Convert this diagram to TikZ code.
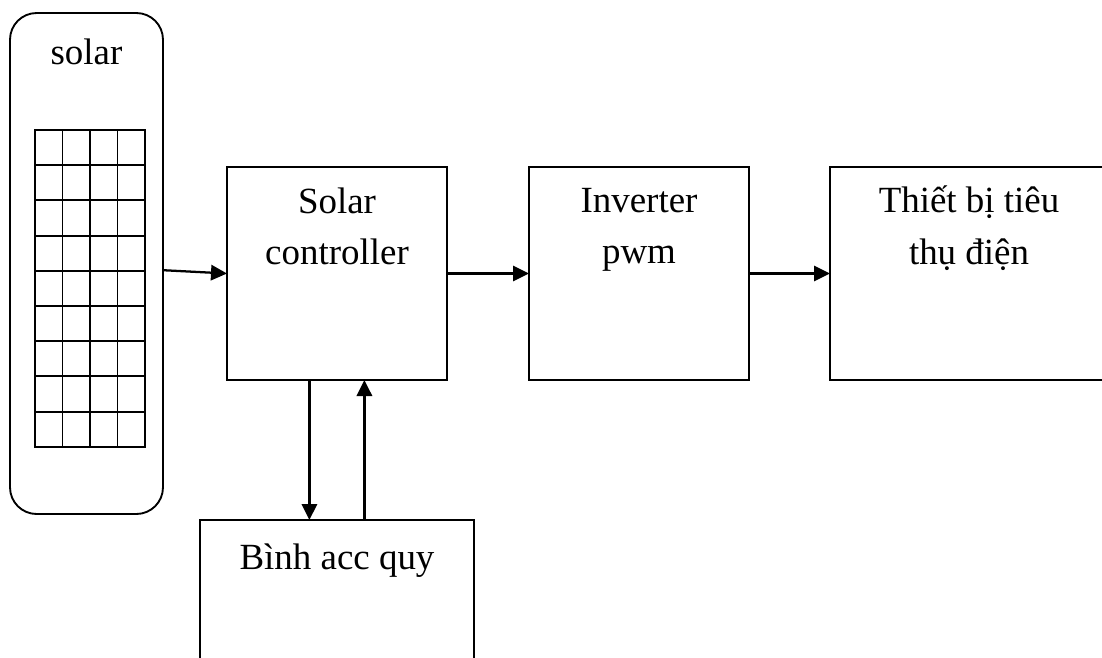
\documentclass[tikz,border=0pt]{standalone}
\usepackage{fontspec}
\setmainfont{Liberation Serif}
\usetikzlibrary{positioning, arrows.meta, calc}
\tikzset{
  block/.style={draw, line width=1.4pt, inner sep=0pt, outer sep=0pt},
  blocktext/.style={align=center, inner sep=0pt, font=\fontsize{27.7}{38.5}\selectfont},
  flow/.style={-{Triangle[length=12pt, width=11.5pt]}, line width=1.7pt}
}

\begin{document}
\begin{tikzpicture}[x=0.75pt, y=-0.75pt]
  \useasboundingbox (0,0) rectangle (1102,657);

  % Solar panel
  \node[block, rounded corners=20pt, minimum width=114.75pt, minimum height=375.75pt] (solar) at (86.5,263.5) {};
  \node[blocktext, below=19.5pt of solar.north] (solartext) {solar};
  \node[block, minimum width=82.5pt, minimum height=237.75pt] (panel) at (90,288.5) {};
  \foreach \i in {1,2,3}
    \draw[line width=1.4pt] (35+27.5*\i,130) -- (35+27.5*\i,447);
  \foreach \j in {1,...,8}
    \draw[line width=1.4pt] (35,130+35.2*\j) -- (145,130+35.2*\j);

  % Blocks
  \node[block, minimum width=165pt, minimum height=159.75pt] (controller) at (337,273.5) {};
  \node[blocktext, below=15.5pt of controller.north] (controllertext) {Solar\\controller};
  \node[block, minimum width=165pt, minimum height=159.75pt] (inverter) at (639,273.5) {};
  \node[blocktext, below=15.5pt of inverter.north] (invertertext) {Inverter\\pwm};
  \node[block, minimum width=208.5pt, minimum height=159.75pt] (load) at (969,273.5) {};
  \node[blocktext, below=14pt of load.north] (loadtext) {Thiết bị tiêu\\thụ điện};
  \node[block, minimum width=205.5pt, minimum height=159.75pt] (battery) at (337,626.5) {};
  \node[blocktext, below=17.5pt of battery.north] (batterytext) {Bình acc quy};

  % Connections
  \draw[flow] (solar.-5.6) -- (controller.west);
  \draw[flow] (controller.east) -- (inverter.west);
  \draw[flow] (inverter.east) -- (load.west);
  \draw[flow] ($(controller.south)+(-27.6,0)$) -- ($(battery.north)+(-27.6,0)$);
  \draw[flow] ($(battery.north)+(27.4,0)$) -- ($(controller.south)+(27.4,0)$);
\end{tikzpicture}
\end{document}
